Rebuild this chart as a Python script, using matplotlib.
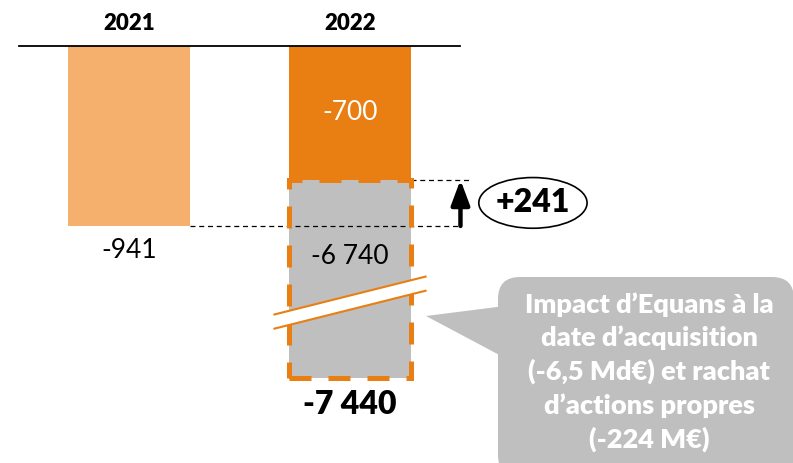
import matplotlib.pyplot as plt
from matplotlib.patches import Rectangle, Ellipse, FancyBboxPatch, Polygon
import numpy as np

plt.rcParams['font.family'] = ['Lato', 'DejaVu Sans']

years = ['2021', '2022']
bfr_2021 = -941
bfr_2022_ops = -700
bfr_2022_equans = -6740
bfr_2022_total = -7440
delta = 241
callout_text = ("Impact d\u2019Equans \u00e0 la\ndate d\u2019acquisition\n"
                "(-6,5 Md\u20ac) et rachat\nd\u2019actions propres\n(-224 M\u20ac)")

light_orange = '#F5B06E'
dark_orange = '#E97E12'
grey = '#BFBFBF'

# broken axis: only this much of the Equans block is actually drawn
shown_equans = 1035


def fmt(v):
    return f'{v:,}'.replace(',', ' ')


fig = plt.figure(figsize=(7.93, 4.63), dpi=100)
ax = fig.add_axes([0, 0, 1, 1])
ax.set_xlim(-0.584, 3.005)
ax.set_ylim(-2180, 240)
ax.axis('off')

x = np.arange(len(years))
w = 0.552
ax.bar(x[0], bfr_2021, width=w, color=light_orange, zorder=2)
ax.bar(x[1], bfr_2022_ops, width=w, color=dark_orange, zorder=2)
ax.bar(x[1], -shown_equans, bottom=bfr_2022_ops, width=w, color=grey, zorder=2)
ax.add_patch(Rectangle((x[1] - w / 2, bfr_2022_ops - shown_equans), w, shown_equans,
                       fill=False, ec=dark_orange, lw=3.6, ls=(0, (4.4, 3.4)), zorder=4))

# baseline + year labels on top
ax.plot([-0.5, 1.5], [0, 0], color='black', lw=1.3, zorder=3)
for xi, yr in zip(x, years):
    ax.annotate(yr, (xi, 0), xytext=(0, 16.5), textcoords='offset points',
                ha='center', va='center', fontsize=16, fontweight='heavy')

# dashed guides and the +241 arrow
ax.plot([x[0] + w / 2, 1.5], [bfr_2021, bfr_2021], color='black', lw=0.9, ls=(0, (4, 3)), zorder=3)
ax.plot([x[1] + w / 2, 1.543], [bfr_2022_ops, bfr_2022_ops], color='black', lw=0.9, ls=(0, (4, 3)), zorder=3)
ax.annotate('', xy=(1.5, bfr_2022_ops), xytext=(1.5, bfr_2021),
            arrowprops=dict(arrowstyle='-|>,head_width=0.28,head_length=0.75', lw=3.2, color='black',
                            shrinkA=0, shrinkB=0, mutation_scale=20))
mid = (bfr_2021 + bfr_2022_ops) / 2
ax.add_patch(Ellipse((1.828, mid), 0.49, 265, fill=False, ec='black', lw=1.2))
ax.text(1.828, mid, f'+{delta}', ha='center', va='center', fontsize=23, fontweight='heavy')

# value labels
ax.annotate(fmt(bfr_2021), (x[0], bfr_2021), xytext=(0, -18), textcoords='offset points',
            ha='center', va='center', fontsize=19)
ax.text(x[1], bfr_2022_ops / 2, fmt(bfr_2022_ops), ha='center', va='center', fontsize=19,
        color='white', zorder=5)
ax.annotate(fmt(bfr_2022_equans), (x[1], bfr_2022_ops), xytext=(0, -55), textcoords='offset points',
            ha='center', va='center', fontsize=19, zorder=5)
ax.annotate(fmt(bfr_2022_total), (x[1], bfr_2022_ops - shown_equans), xytext=(0, -19.5),
            textcoords='offset points', ha='center', va='center', fontsize=23, fontweight='heavy')

# axis break marks across the grey block
yc = bfr_2022_ops - 0.62 * shown_equans
hx, hy, gap = 0.342, 99, 37
xs = [x[1] - hx, x[1] + hx]
ax.add_patch(Polygon([(xs[0], yc - hy - gap), (xs[1], yc + hy - gap),
                      (xs[1], yc + hy + gap), (xs[0], yc - hy + gap)],
                     closed=True, fc='white', ec='none', zorder=5))
for s in (-1, 1):
    ax.plot(xs, [yc - hy + s * gap, yc + hy + s * gap], color=dark_orange, lw=1.5, zorder=6)

# callout bubble, drawn in pixel space
ov = fig.add_axes([0, 0, 1, 1])
ov.set_xlim(0, 793)
ov.set_ylim(463, 0)
ov.axis('off')
ov.patch.set_alpha(0)
ov.add_patch(FancyBboxPatch((498, 277), 296, 200, boxstyle='round,pad=0,rounding_size=22',
                            fc=grey, ec='none'))
ov.add_patch(Polygon([(426, 316), (505, 306), (505, 358)], closed=True, fc=grey, ec='none'))
ov.text(649, 372, callout_text, ha='center', va='center', fontsize=19.5, fontweight='heavy',
        color='white', linespacing=1.42)

fig.savefig('out.png', dpi=100)
